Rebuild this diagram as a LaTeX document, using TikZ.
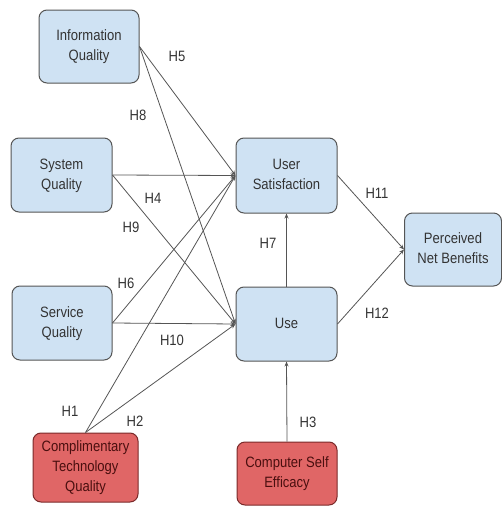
\documentclass[tikz,border=0pt]{standalone}
\usepackage{fontspec}
\setmainfont{Liberation Sans}
\usetikzlibrary{arrows.meta}
\definecolor{boxblue}{HTML}{CFE2F3}
\definecolor{boxred}{HTML}{E06666}
\definecolor{redline}{HTML}{7A2A2A}
\definecolor{redtext}{HTML}{4A0F0F}
\definecolor{edgegray}{HTML}{555555}
\definecolor{txtgray}{HTML}{333333}
\newcommand{\lbl}[1]{\scalebox{0.87}[1]{\begin{tabular}{@{}c@{}}#1\end{tabular}}}
\tikzset{
  bluebox/.style={draw=edgegray, line width=1pt, fill=boxblue, rounded corners=8pt,
    inner sep=0pt, text=txtgray, font=\fontsize{15}{20}\selectfont},
  redbox/.style={draw=redline, line width=1pt, fill=boxred, rounded corners=8pt,
    inner sep=0pt, text=redtext, font=\fontsize{15}{20}\selectfont},
  conn/.style={draw=edgegray, line width=0.8pt, -{Stealth[length=5pt,width=4pt]}},
  hlab/.style={text=txtgray, font=\fontsize{15}{18}\selectfont, inner sep=0pt}
}
\begin{document}
\begin{tikzpicture}[x=1pt,y=-1pt]
\useasboundingbox (0,0) rectangle (502,506);
\node[bluebox, minimum width=100pt, minimum height=73pt] (iq) at (89,46.5) {\lbl{Information\\Quality}};
\node[bluebox, minimum width=101pt, minimum height=74pt] (sq) at (61.5,175) {\lbl{System\\Quality}};
\node[bluebox, minimum width=100pt, minimum height=74pt] (svq) at (62,323) {\lbl{Service\\Quality}};
\node[redbox, minimum width=105pt, minimum height=69pt] (ctq) at (85.5,467.5) {\lbl{Complimentary\\Technology\\Quality}};
\node[bluebox, minimum width=101pt, minimum height=75pt] (us) at (286.5,175.5) {\lbl{User\\Satisfaction}};
\node[bluebox, minimum width=101pt, minimum height=74pt] (use) at (286.5,324) {\lbl{Use}};
\node[bluebox, minimum width=97pt, minimum height=73pt] (pnb) at (453,249.5) {\lbl{Perceived\\Net Benefits}};
\node[redbox, minimum width=100pt, minimum height=63pt] (cse) at (287,473.5) {\lbl{Computer Self\\Efficacy}};

\draw[conn] (iq.east) -- (us.west);
\draw[conn] (iq.east) -- (use.west);
\draw[conn] (sq.east) -- (us.west);
\draw[conn] (sq.east) -- (use.west);
\draw[conn] (svq.east) -- (us.west);
\draw[conn] (svq.east) -- (use.west);
\draw[conn] (ctq.north) -- (us.west);
\draw[conn] (ctq.north) -- (use.west);
\draw[conn] (use.north) -- (us.south);
\draw[conn] (cse.north) -- (use.south);
\draw[conn] (us.east) -- (pnb.west);
\draw[conn] (use.east) -- (pnb.west);

\node[hlab] (h5) at (177,58) {\lbl{H5}};
\node[hlab] (h8) at (138,117) {\lbl{H8}};
\node[hlab] (h4) at (153,200) {\lbl{H4}};
\node[hlab] (h9) at (131,229) {\lbl{H9}};
\node[hlab] (h6) at (126,285) {\lbl{H6}};
\node[hlab] (h10) at (172,342) {\lbl{H10}};
\node[hlab] (h1) at (70,413) {\lbl{H1}};
\node[hlab] (h2) at (135,423) {\lbl{H2}};
\node[hlab] (h7) at (268,245) {\lbl{H7}};
\node[hlab] (h11) at (377,195) {\lbl{H11}};
\node[hlab] (h12) at (377,315) {\lbl{H12}};
\node[hlab] (h3) at (308,424) {\lbl{H3}};
\end{tikzpicture}
\end{document}
